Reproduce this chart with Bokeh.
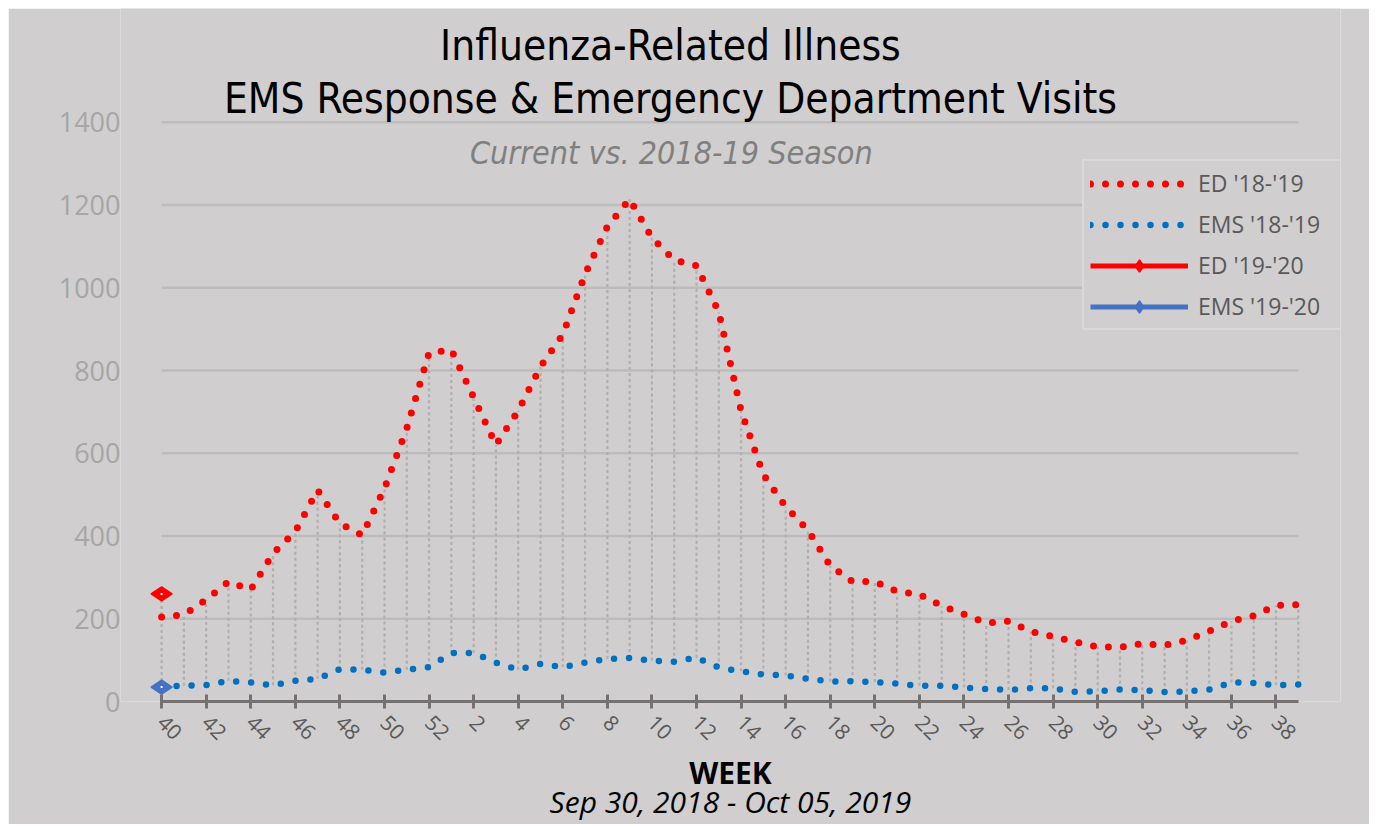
import math
from bokeh.plotting import figure
from bokeh.models import Range1d, FixedTicker, Label, Legend, LegendItem, LinearAxis
from bokeh.embed import file_html
from bokeh.resources import INLINE

# ---------------- data ----------------
weeks = list(range(40, 53)) + list(range(1, 40))
ed_1819 = [204, 210, 246, 290, 270, 358, 411, 511, 430, 402,
           515, 660, 843, 850, 735, 620, 703, 809, 887, 1033,
           1148, 1214, 1121, 1067, 1053, 941, 703, 548, 471, 414,
           328, 290, 290, 266, 259, 231, 211, 190, 194, 169,
           157, 144, 132, 131, 140, 136, 148, 170, 194, 207,
           232, 234]
ems_1819 = [36, 38, 40, 50, 46, 39, 50, 55, 78, 77,
            70, 77, 83, 117, 117, 94, 77, 91, 83, 94,
            103, 105, 99, 96, 106, 82, 73, 65, 63, 55,
            48, 49, 47, 43, 38, 38, 34, 30, 28, 32,
            32, 23, 25, 29, 27, 23, 24, 29, 46, 45,
            39, 41]
ed_1920 = [260]
ems_1920 = [35]
y_ticks = [0, 200, 400, 600, 800, 1000, 1200, 1400]

title_lines = ["Influenza-Related Illness",
               "EMS Response & Emergency Department Visits"]
subtitle = "Current vs. 2018-19 Season"
x_title = "WEEK"
date_range = "Sep 30, 2018 - Oct 05, 2019"

# ---------------- styling ----------------
BG = "#D0CECE"
GRID = "#BDBCBC"
AXIS = "#767171"
RED = "#FF0000"
BLUE = "#0070C0"
BLUE2 = "#4472C4"
TXT = "#595959"
TITLE_FONT = "DejaVu Sans Condensed"

n = len(weeks)
xs = list(range(n))
x19 = list(range(len(ed_1920)))

p = figure(width=1361, height=816, output_backend="svg", toolbar_location=None,
           x_range=Range1d(-1.844, n + 0.894), y_range=Range1d(0, 1675),
           min_border_left=112, min_border_right=29,
           min_border_top=0, min_border_bottom=122)
p.margin = (8, 0, 0, 8)
p.background_fill_color = BG
p.border_fill_color = BG
p.outline_line_color = None
p.grid.visible = False

# horizontal gridlines spanning the categories only
gy = [t for t in y_ticks if t > 0]
p.segment(x0=[0] * len(gy), x1=[n - 1] * len(gy), y0=gy, y1=gy,
          line_color=GRID, line_width=2.5)

# high-low drop lines
highs, lows = [], []
for i in range(n):
    vals = [ed_1819[i], ems_1819[i]]
    if i < len(ed_1920):
        vals += [ed_1920[i], ems_1920[i]]
    highs.append(max(vals))
    lows.append(min(vals))
p.segment(x0=xs, x1=xs, y0=lows, y1=highs, line_color="#B0AFAF",
          line_width=2.2, line_dash="3 3")

# 2018-19 dotted series
r_ems18 = p.line(xs, ems_1819, line_color=BLUE, line_width=6.5,
                 line_dash="0 15", line_cap="round", line_join="round")
r_ed18 = p.line(xs, ed_1819, line_color=RED, line_width=7,
                line_dash="0 15", line_cap="round", line_join="round")

# 2019-20 series (current)
r_ed19l = p.line(x19, ed_1920, line_color=RED, line_width=5)
r_ed19m = p.scatter(x19, ed_1920, marker="diamond", size=21, angle=math.pi / 2,
                    fill_color=RED, line_color=RED, line_width=1.5)
r_ems19l = p.line(x19, ems_1920, line_color=BLUE2, line_width=5)
r_ems19m = p.scatter(x19, ems_1920, marker="diamond", size=21, angle=math.pi / 2,
                     fill_color=BLUE2, line_color=BLUE2, line_width=1.5)
p.scatter(x19, ed_1920, marker="square", size=2, fill_color="white", line_color=None)
p.scatter(x19, ems_1920, marker="square", size=2, fill_color="white", line_color=None)

# x axis
xa = p.xaxis[0]
xa.ticker = FixedTicker(ticks=list(range(0, n, 2)))
xa.major_label_overrides = {i: str(weeks[i]) for i in range(0, n, 2)}
xa.bounds = (0, n - 1)
xa.axis_line_color = AXIS
xa.axis_line_width = 3
xa.major_tick_line_color = AXIS
xa.major_tick_line_width = 3
xa.major_tick_in = 7
xa.major_tick_out = 7
xa.minor_tick_line_color = None
xa.major_label_orientation = -math.pi / 4
xa.major_label_text_font = "Open Sans"
xa.major_label_text_font_size = "21px"
xa.major_label_text_color = TXT
xa.major_label_standoff = 10
xa.axis_label = x_title
xa.axis_label_text_font = "Open Sans"
xa.axis_label_text_font_style = "bold"
xa.axis_label_text_font_size = "30px"
xa.axis_label_text_color = "black"
xa.axis_label_standoff = 2

xa2 = LinearAxis(ticker=FixedTicker(ticks=[]), bounds=(0, n - 1),
                 axis_line_color=None, major_tick_line_color=None,
                 minor_tick_line_color=None, major_tick_in=0, major_tick_out=0,
                 major_label_standoff=0, axis_label=date_range,
                 axis_label_standoff=-15,
                 axis_label_text_font="Open Sans",
                 axis_label_text_font_style="italic",
                 axis_label_text_font_size="30px",
                 axis_label_text_color="black")
p.add_layout(xa2, "below")

# y axis
ya = p.yaxis[0]
ya.ticker = FixedTicker(ticks=y_ticks)
ya.axis_line_color = None
ya.major_tick_line_color = None
ya.minor_tick_line_color = None
ya.major_tick_out = 0
ya.major_tick_in = 0
ya.major_label_standoff = 0
ya.major_label_text_font = "Open Sans"
ya.major_label_text_font_size = "27px"
ya.major_label_text_color = "#A6A6A6"

# titles (inside the extended frame)
p.add_layout(Label(x=22.83, y=1586, text=title_lines[0], text_align="center",
                   text_baseline="alphabetic", text_font=TITLE_FONT,
                   text_font_size="42px", text_color="black"))
p.add_layout(Label(x=22.83, y=1457, text=title_lines[1], text_align="center",
                   text_baseline="alphabetic", text_font=TITLE_FONT,
                   text_font_size="42px", text_color="black"))
p.add_layout(Label(x=22.87, y=1326, text=subtitle, text_align="center",
                   text_baseline="alphabetic", text_font=TITLE_FONT,
                   text_font_style="italic", text_font_size="32px",
                   text_color="#808080"))

# legend
legend = Legend(items=[
    LegendItem(label="ED '18-'19", renderers=[r_ed18]),
    LegendItem(label="EMS '18-'19", renderers=[r_ems18]),
    LegendItem(label="ED '19-'20", renderers=[r_ed19l, r_ed19m]),
    LegendItem(label="EMS '19-'20", renderers=[r_ems19l, r_ems19m]),
], location=(962, 371))
legend.background_fill_color = BG
legend.background_fill_alpha = 1
legend.border_line_color = "#E4E3E3"
legend.border_line_width = 2
legend.padding = 6
legend.margin = 0
legend.spacing = 9
legend.glyph_width = 98
legend.glyph_height = 31
legend.label_height = 28
legend.label_width = 138
legend.label_standoff = 10
legend.label_text_font = "Open Sans"
legend.label_text_font_size = "23px"
legend.label_text_color = TXT
p.add_layout(legend)

open("out.html", "w").write(file_html(p, INLINE))
